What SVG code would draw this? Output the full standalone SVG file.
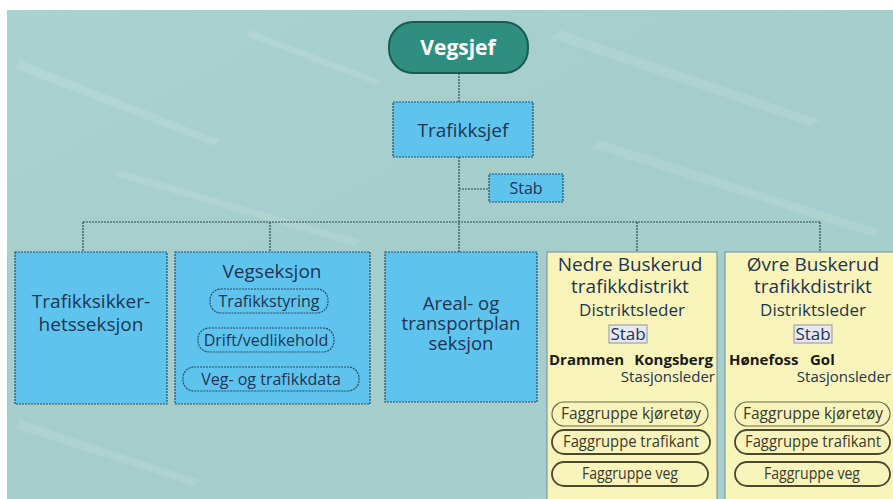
<svg xmlns="http://www.w3.org/2000/svg" width="893" height="499" viewBox="0 0 893 499">
<defs>
<linearGradient id="bg" x1="0" y1="0" x2="1" y2="1">
<stop offset="0" stop-color="#a9d2d0"/>
<stop offset="0.5" stop-color="#a4cdcb"/>
<stop offset="1" stop-color="#a7cfcd"/>
</linearGradient>
</defs>
<style>
.t{font-family:"Open Sans","Noto Sans","DejaVu Sans",sans-serif;fill:#1d3553;text-anchor:middle}
.box{fill:#5ec4ee;stroke:#2b4a66;stroke-width:1.2;stroke-dasharray:2 1}
.ybox{fill:#f9f4b9;stroke:#7f9aa5;stroke-width:1.2}
.pillb{fill:none;stroke:#2b4a66;stroke-width:1.2;stroke-dasharray:2 1}
.pilly{fill:none;stroke:#6a6750;stroke-width:1.2}
.pilly2{fill:none;stroke:#4a4733;stroke-width:1.8}
.ln{stroke:#2e4a55;stroke-width:1.2;fill:none;stroke-dasharray:2 1}
.small{font-size:16px}
.big{font-size:19px}
.mid{font-size:17px}
.b{font-weight:bold;fill:#1a1a1a}
.yp{font-size:15.5px;fill:#3a3a2e}
</style>
<rect x="0" y="0" width="893" height="499" fill="#ffffff"/>
<rect x="7" y="10" width="886" height="489" fill="url(#bg)"/>
<g opacity="0.13" fill="#eef8f6">
<path d="M20 60 L220 140 L214 146 L14 68 Z"/>
<path d="M560 30 L820 120 L810 126 L550 38 Z"/>
<path d="M600 140 L880 230 L872 236 L592 148 Z"/>
<path d="M120 170 L360 240 L354 246 L114 176 Z"/>
<path d="M20 420 L200 480 L194 486 L14 428 Z"/>
<path d="M250 30 L380 80 L376 85 L246 36 Z"/>
</g>
<g id="connectors">
<line class="ln" x1="459" y1="73" x2="459" y2="102"/>
<line class="ln" x1="459" y1="157" x2="459" y2="252"/>
<line class="ln" x1="459" y1="189" x2="489" y2="189"/>
<line class="ln" x1="83" y1="222" x2="820" y2="222"/>
<line class="ln" x1="83" y1="222" x2="83" y2="252"/>
<line class="ln" x1="270" y1="222" x2="270" y2="252"/>
<line class="ln" x1="637" y1="222" x2="637" y2="252"/>
<line class="ln" x1="820" y1="222" x2="820" y2="252"/>
</g>
<g id="vegsjef">
<rect x="389" y="22" width="139" height="51" rx="24" fill="#2e8f80" stroke="#1b5a52" stroke-width="2"/>
<text class="t" x="458" y="55" style="font-size:21px;font-weight:bold;fill:#ffffff">Vegsjef</text>
</g>
<g id="trafikksjef">
<rect class="box" x="393" y="102" width="140" height="55"/>
<text class="t big" x="463" y="137">Trafikksjef</text>
</g>
<g id="stab">
<rect class="box" x="489" y="174" width="74" height="28"/>
<text class="t" x="526" y="194" style="font-size:16px">Stab</text>
</g>
<g id="trafikksikkerhet">
<rect class="box" x="15" y="252" width="152" height="152"/>
<text class="t big" x="91" y="308">Trafikksikker-<tspan x="91" dy="23">hetsseksjon</tspan></text>
</g>
<g id="vegseksjon">
<rect class="box" x="175" y="252" width="195" height="152"/>
<text class="t big" x="272" y="278">Vegseksjon</text>
<rect class="pillb" x="210" y="289" width="118" height="24" rx="11"/>
<text class="t small" x="269" y="307">Trafikkstyring</text>
<rect class="pillb" x="198" y="328" width="136" height="24" rx="11"/>
<text class="t small" x="266" y="346">Drift/vedlikehold</text>
<rect class="pillb" x="183" y="367" width="176" height="24" rx="11"/>
<text class="t small" x="271" y="385">Veg- og trafikkdata</text>
</g>
<g id="areal">
<rect class="box" x="385" y="252" width="152" height="150"/>
<text class="t" x="461" y="310" style="font-size:18.5px">Areal- og<tspan x="461" dy="20">transportplan</tspan><tspan x="461" dy="20">seksjon</tspan></text>
</g>
<g id="nedre">
<rect class="ybox" x="547" y="252" width="170" height="250"/>
<text class="t big" x="630" y="271">Nedre Buskerud<tspan x="630" dy="22">trafikkdistrikt</tspan></text>
<text class="t mid" x="632" y="316">Distriktsleder</text>
<rect x="609" y="325" width="38" height="18" fill="#e6e8f2" stroke="#8f93a3" stroke-width="1"/>
<text class="t mid" x="628" y="340">Stab</text>
<text class="t b" x="549" y="365" style="text-anchor:start;font-size:15px">Drammen</text>
<text class="t b" x="713" y="365" style="text-anchor:end;font-size:15px">Kongsberg</text>
<text class="t" x="715" y="382" style="text-anchor:end;font-size:15px">Stasjonsleder</text>
<rect class="pilly" x="552" y="402" width="156" height="24" rx="12"/>
<text class="t yp" x="631" y="419" textLength="140" lengthAdjust="spacingAndGlyphs">Faggruppe kjøretøy</text>
<rect class="pilly2" x="552" y="430" width="158" height="24" rx="12"/>
<text class="t yp" x="631" y="447" textLength="136" lengthAdjust="spacingAndGlyphs">Faggruppe trafikant</text>
<rect class="pilly2" x="552" y="462" width="156" height="24" rx="12"/>
<text class="t yp" x="630" y="479" textLength="96" lengthAdjust="spacingAndGlyphs">Faggruppe veg</text>
</g>
<g id="ovre">
<rect class="ybox" x="725" y="252" width="175" height="250"/>
<text class="t big" x="813" y="271">Øvre Buskerud<tspan x="813" dy="22">trafikkdistrikt</tspan></text>
<text class="t mid" x="813" y="316">Distriktsleder</text>
<rect x="794" y="325" width="38" height="18" fill="#e6e8f2" stroke="#8f93a3" stroke-width="1"/>
<text class="t mid" x="813" y="340">Stab</text>
<text class="t b" x="729" y="365" style="text-anchor:start;font-size:15px">Hønefoss</text>
<text class="t b" x="810" y="365" style="text-anchor:start;font-size:15px">Gol</text>
<text class="t" x="891" y="382" style="text-anchor:end;font-size:15px">Stasjonsleder</text>
<rect class="pilly" x="735" y="402" width="155" height="24" rx="12"/>
<text class="t yp" x="813" y="419" textLength="140" lengthAdjust="spacingAndGlyphs">Faggruppe kjøretøy</text>
<rect class="pilly2" x="735" y="430" width="155" height="24" rx="12"/>
<text class="t yp" x="813" y="447" textLength="136" lengthAdjust="spacingAndGlyphs">Faggruppe trafikant</text>
<rect class="pilly2" x="735" y="462" width="155" height="24" rx="12"/>
<text class="t yp" x="812" y="479" textLength="96" lengthAdjust="spacingAndGlyphs">Faggruppe veg</text>
</g>
</svg>
